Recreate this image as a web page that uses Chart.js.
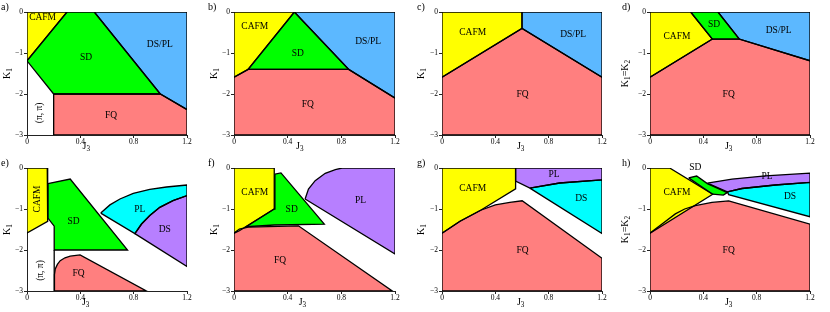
<!DOCTYPE html>
<html>
<head>
<meta charset="utf-8">
<script src="https://cdn.jsdelivr.net/npm/chart.js@4.4.0/dist/chart.umd.min.js"></script>
<style>
  body { margin: 0; background: #fff; }
  #wrap { position: relative; width: 830px; height: 312px; }
  canvas { position: absolute; }
</style>
</head>
<body>
<div id="wrap"></div>
<script>
// tick values
var xTicks = [0, 0.4, 0.8, 1.2];
var yTicks = [0, -1, -2, -3];

// region corners as [J3, K1]
var aCAFM = [[0, 0], [0.30, 0], [0, -1.19]];
var aSD = [[0.30, 0], [0.505, 0], [1.0, -2.0], [0.2, -2.0], [0, -1.19]];
var aDSPL = [[0.505, 0], [1.2, 0], [1.2, -2.38], [1.0, -2.0]];
var aFQ = [[0.2, -2.0], [1.0, -2.0], [1.2, -2.38], [1.2, -3], [0.2, -3]];

var bCAFM = [[0, 0], [0.45, 0], [0.105, -1.40], [0, -1.59]];
var bSD = [[0.45, 0], [0.855, -1.40], [0.105, -1.40]];
var bDSPL = [[0.45, 0], [1.2, 0], [1.2, -2.10], [0.855, -1.40]];
var bFQ = [[0, -1.59], [0.105, -1.40], [0.855, -1.40], [1.2, -2.10], [1.2, -3], [0, -3]];

var cCAFM = [[0, 0], [0.6, 0], [0.6, -0.40], [0, -1.59]];
var cDSPL = [[0.6, 0], [1.2, 0], [1.2, -1.59], [0.6, -0.40]];
var cFQ = [[0, -1.59], [0.6, -0.40], [1.2, -1.59], [1.2, -3], [0, -3]];

var dCAFM = [[0, 0], [0.305, 0], [0.4675, -0.66], [0, -1.59]];
var dSD = [[0.305, 0], [0.51, 0], [0.67, -0.66], [0.4675, -0.66]];
var dDSPL = [[0.51, 0], [1.2, 0], [1.2, -1.19], [0.67, -0.66]];
var dFQ = [[0, -1.59], [0.4675, -0.66], [0.67, -0.66], [1.2, -1.19], [1.2, -3], [0, -3]];

var eCAFM = [[0, 0], [0.152, 0], [0.155, -1.30], [0, -1.585]];
var eSD = [[0.157, -0.38], [0.324, -0.27], [0.754, -2.0], [0.204, -2.0], [0.204, -1.42], [0.157, -1.22]];
var ePiPi = [[0.204, -2.0], [0.204, -3]];
var eFQ = [[0.204, -3], [0.206, -2.6], [0.212, -2.46], [0.228, -2.35], [0.249, -2.26], [0.285, -2.19],
           [0.324, -2.15], [0.398, -2.12], [0.896, -3]];
var ePL = [[0.553, -1.10], [0.622, -0.90], [0.697, -0.756], [0.797, -0.618], [0.921, -0.52], [1.046, -0.463],
           [1.2, -0.415], [1.2, -0.675], [1.095, -0.797], [0.996, -0.96], [0.921, -1.16], [0.859, -1.366], [0.809, -1.60]];
var eDS = [[0.809, -1.60], [0.859, -1.366], [0.921, -1.16], [0.996, -0.96], [1.095, -0.797], [1.2, -0.675], [1.2, -2.40]];

var fCAFM = [[0, 0], [0.30, 0], [0.30, -1.0], [0.04, -1.53], [0, -1.59]];
var fSD = [[0.305, -0.15], [0.35, -0.12], [0.673, -1.37], [0.30, -1.39], [0.09, -1.43], [0.30, -1.0]];
var fFQ = [[0, -1.59], [0.04, -1.49], [0.105, -1.44], [0.48, -1.41], [1.18, -3], [0, -3]];
var fPL = [[0.53, -0.756], [0.555, -0.512], [0.605, -0.31], [0.68, -0.13], [0.755, -0.04], [0.805, 0],
           [1.2, 0], [1.2, -2.10]];

var gCAFM = [[0, 0], [0.552, 0], [0.552, -0.51], [0.29, -1.03], [0.135, -1.30], [0, -1.59]];
var gFQ = [[0, -1.59], [0.135, -1.30], [0.29, -1.03], [0.40, -0.90], [0.509, -0.84], [0.601, -0.80],
           [1.2, -2.2], [1.2, -3], [0, -3]];
var gPL = [[0.552, 0], [1.2, 0], [1.2, -0.29], [0.883, -0.366], [0.659, -0.49], [0.552, -0.32]];
var gDS = [[0.659, -0.49], [0.883, -0.366], [1.2, -0.29], [1.2, -1.60]];

var hCAFM = [[0, 0], [0.1475, 0], [0.47, -0.64], [0, -1.59]];
var hSD = [[0.29, -0.24], [0.35, -0.195], [0.43, -0.38], [0.58, -0.60], [0.55, -0.66], [0.47, -0.64]];
var hPL = [[0.43, -0.37], [0.615, -0.27], [0.865, -0.19], [1.2, -0.125], [1.2, -0.35], [0.94, -0.415],
           [0.69, -0.50], [0.58, -0.58]];
var hDS = [[0.58, -0.58], [0.69, -0.50], [0.94, -0.415], [1.2, -0.35], [1.2, -1.19], [0.59, -0.65]];
var hFQ = [[0, -1.59], [0.1, -1.34], [0.19, -1.12], [0.26, -1.0], [0.34, -0.92], [0.465, -0.84],
           [0.59, -0.80], [1.2, -1.37], [1.2, -3], [0, -3]];

var YELLOW = '#ffff00', GREEN = '#00ff00', BLUE = '#5cb8ff', SALMON = '#ff7f7f',
    CYAN = '#00ffff', PURPLE = '#b77fff';
var SERIF = "'Liberation Serif', 'DejaVu Serif', serif";
var K1 = [['K'], ['1', 1]];
var K1K2 = [['K'], ['1', 1], ['='], ['K'], ['2', 1]];

var panels = [
  {tag: 'a)', left: 0, top: 0, w: 207, yW: 27, tagX: 1, yTitleX: 7, xTitleAt: 0.445, yTitle: K1,
   regions: [[aCAFM, YELLOW], [aSD, GREEN], [aDSPL, BLUE], [aFQ, SALMON]], lines: [],
   labels: [['CAFM', 0.117, -0.13], ['SD', 0.443, -1.1], ['DS/PL', 0.996, -0.8], ['FQ', 0.63, -2.52], ['(\u03c0, \u03c0)', 0.095, -2.46, 1]]},
  {tag: 'b)', left: 207, top: 0, w: 208, yW: 27, tagX: 1, yTitleX: 7, xTitleAt: 0.49, yTitle: K1,
   regions: [[bCAFM, YELLOW], [bSD, GREEN], [bDSPL, BLUE], [bFQ, SALMON]], lines: [],
   labels: [['CAFM', 0.155, -0.35], ['SD', 0.475, -1.0], ['DS/PL', 1.0, -0.72], ['FQ', 0.55, -2.26]]},
  {tag: 'c)', left: 415, top: 0, w: 207, yW: 27, tagX: 2, yTitleX: 6, xTitleAt: 0.59, yTitle: K1,
   regions: [[cCAFM, YELLOW], [cDSPL, BLUE], [cFQ, SALMON]], lines: [],
   labels: [['CAFM', 0.23, -0.5], ['DS/PL', 0.983, -0.54], ['FQ', 0.604, -2.0]]},
  {tag: 'd)', left: 615, top: 0, w: 215, yW: 35, tagX: 7, yTitleX: 10, xTitleAt: 0.59, yTitle: K1K2,
   regions: [[dCAFM, YELLOW], [dSD, GREEN], [dDSPL, BLUE], [dFQ, SALMON]], lines: [],
   labels: [['CAFM', 0.2025, -0.59], ['SD', 0.48, -0.31], ['DS/PL', 0.965, -0.45], ['FQ', 0.59, -2.0]]},
  {tag: 'e)', left: 0, top: 156, w: 207, yW: 27, tagX: 1, yTitleX: 7, xTitleAt: 0.44, yTitle: K1,
   regions: [[eCAFM, YELLOW], [eSD, GREEN], [eFQ, SALMON], [ePL, CYAN], [eDS, PURPLE]], lines: [ePiPi],
   labels: [['CAFM', 0.082, -0.756, 1], ['SD', 0.349, -1.3], ['PL', 0.846, -1.0], ['DS', 1.033, -1.5],
            ['FQ', 0.386, -2.585], ['(\u03c0, \u03c0)', 0.1, -2.5, 1]]},
  {tag: 'f)', left: 207, top: 156, w: 208, yW: 27, tagX: 1, yTitleX: 7, xTitleAt: 0.51, yTitle: K1,
   regions: [[fCAFM, YELLOW], [fSD, GREEN], [fFQ, SALMON], [fPL, PURPLE]], lines: [],
   labels: [['CAFM', 0.155, -0.59], ['SD', 0.43, -1.0], ['PL', 0.943, -0.8], ['FQ', 0.343, -2.26]]},
  {tag: 'g)', left: 415, top: 156, w: 207, yW: 27, tagX: 2, yTitleX: 6, xTitleAt: 0.59, yTitle: K1,
   regions: [[gCAFM, YELLOW], [gFQ, SALMON], [gPL, PURPLE], [gDS, CYAN]], lines: [],
   labels: [['CAFM', 0.23, -0.5], ['PL', 0.84, -0.17], ['DS', 1.045, -0.74], ['FQ', 0.604, -2.0]]},
  {tag: 'h)', left: 615, top: 156, w: 215, yW: 35, tagX: 7, yTitleX: 10, xTitleAt: 0.59, yTitle: K1K2,
   regions: [[hCAFM, YELLOW], [hSD, GREEN], [hPL, PURPLE], [hDS, CYAN], [hFQ, SALMON]], lines: [],
   labels: [['CAFM', 0.2025, -0.59], ['SD', 0.34, 0.01], ['PL', 0.8775, -0.2], ['DS', 1.05, -0.7], ['FQ', 0.59, -2.0]]}
];

function pts(poly, close) {
  var out = poly.map(function (p) { return {x: p[0], y: p[1]}; });
  if (close) out.push({x: poly[0][0], y: poly[0][1]});
  return out;
}

// text with subscripts, centred on x
function drawSub(ctx, parts, x, y, size) {
  var widths = parts.map(function (p) {
    ctx.font = (p[1] ? size * 0.72 : size) + 'px ' + SERIF;
    return ctx.measureText(p[0]).width;
  });
  var total = widths.reduce(function (a, b) { return a + b; }, 0);
  var cx = x - total / 2;
  parts.forEach(function (p, i) {
    ctx.font = (p[1] ? size * 0.72 : size) + 'px ' + SERIF;
    ctx.fillText(p[0], cx, p[1] ? y + size * 0.32 : y);
    cx += widths[i];
  });
}

function textPlugin(p) {
  return {
    id: 'phaseText',
    afterDraw: function (chart) {
      var ctx = chart.ctx, xs = chart.scales.x, ys = chart.scales.y, area = chart.chartArea;
      ctx.save();
      ctx.fillStyle = '#000';
      ctx.textBaseline = 'middle';
      ctx.textAlign = 'center';
      ctx.font = '9.5px ' + SERIF;
      p.labels.forEach(function (l) {
        ctx.save();
        ctx.translate(xs.getPixelForValue(l[1]), ys.getPixelForValue(l[2]));
        if (l[3]) ctx.rotate(-Math.PI / 2);
        ctx.fillText(l[0], 0, 0);
        ctx.restore();
      });
      ctx.textAlign = 'left';
      drawSub(ctx, [['J'], ['3', 1]], xs.getPixelForValue(p.xTitleAt), 146, 10);
      ctx.save();
      ctx.translate(p.yTitleX, (area.top + area.bottom) / 2);
      ctx.rotate(-Math.PI / 2);
      drawSub(ctx, p.yTitle, 0, 0, 10);
      ctx.restore();
      ctx.font = '10px ' + SERIF;
      ctx.fillText(p.tag, p.tagX, 7);
      ctx.restore();
    }
  };
}

function minus(v) { return v < 0 ? '\u2212' + Math.abs(v) : String(v); }

var wrap = document.getElementById('wrap');
panels.forEach(function (p) {
  var cv = document.createElement('canvas');
  cv.width = p.w; cv.height = 156;
  cv.style.left = p.left + 'px'; cv.style.top = p.top + 'px';
  cv.style.width = p.w + 'px'; cv.style.height = '156px';
  wrap.appendChild(cv);

  var datasets = p.regions.map(function (r) {
    return {data: pts(r[0], true), backgroundColor: r[1], borderColor: '#000', borderWidth: 1.3,
            fill: 'shape', pointRadius: 0, tension: 0};
  });
  p.lines.forEach(function (l) {
    datasets.push({data: pts(l, false), borderColor: '#000', borderWidth: 1.3, fill: false, pointRadius: 0});
  });

  var axisGrid = {display: true, drawOnChartArea: false, tickLength: 3, color: '#222', lineWidth: 1};
  var tickFont = {family: SERIF, size: 7.5};

  new Chart(cv, {
    type: 'line',
    data: {datasets: datasets},
    options: {
      responsive: false, animation: false, events: [],
      layout: {padding: {left: 0, right: 20, top: 12, bottom: 0}},
      plugins: {legend: {display: false}, tooltip: {enabled: false}, filler: {drawTime: 'beforeDatasetsDraw'}},
      scales: {
        x: {
          type: 'linear', min: 0, max: 1.2,
          afterFit: function (s) { s.height = 21; },
          afterBuildTicks: function (s) { s.ticks = xTicks.map(function (v) { return {value: v}; }); },
          grid: axisGrid,
          border: {display: true, color: '#222', width: 1},
          ticks: {font: tickFont, color: '#000', padding: 0, maxRotation: 0, callback: minus}
        },
        y: {
          type: 'linear', min: -3, max: 0,
          afterFit: function (s) { s.width = p.yW; },
          afterBuildTicks: function (s) { s.ticks = yTicks.map(function (v) { return {value: v}; }); },
          grid: axisGrid,
          border: {display: true, color: '#222', width: 1},
          ticks: {font: tickFont, color: '#000', padding: 1, callback: minus}
        }
      }
    },
    plugins: [textPlugin(p)]
  });
});
</script>
</body>
</html>
